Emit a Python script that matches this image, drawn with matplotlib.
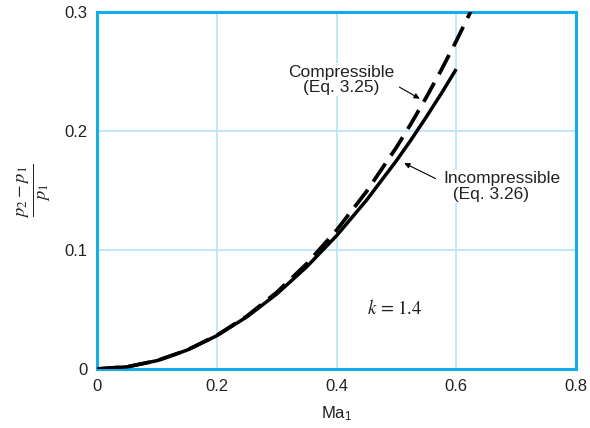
import numpy as np
import matplotlib.pyplot as plt

# ------------------------------------------------------
# DATA
# ------------------------------------------------------

# Mach number samples
ma = [0.0, 0.05, 0.10, 0.15, 0.20, 0.25, 0.30, 0.35, 0.40, 0.45, 0.50,
      0.525, 0.55, 0.575, 0.60]
ma_comp = ma + [0.625, 0.65]

# Incompressible curve (Eq. 3.26)
incomp = [0.0, 0.0018, 0.0070, 0.0158, 0.0280, 0.0438, 0.0630, 0.0858,
          0.1120, 0.1418, 0.1750, 0.1929, 0.2118, 0.2314, 0.2520]

# Compressible curve (Eq. 3.25), runs off the top of the plot
comp = [0.0, 0.0018, 0.0070, 0.0158, 0.0283, 0.0444, 0.0644, 0.0884,
        0.1166, 0.1491, 0.1862, 0.2066, 0.2283, 0.2512, 0.2755, 0.3012, 0.3283]

x_ticks = [0, 0.2, 0.4, 0.6, 0.8]
y_ticks = [0, 0.1, 0.2, 0.3]
x_tick_labels = ['0', '0.2', '0.4', '0.6', '0.8']
y_tick_labels = ['0', '0.1', '0.2', '0.3']

# ------------------------------------------------------
# STYLE
# ------------------------------------------------------

plt.rcParams['font.family'] = ['Liberation Sans', 'DejaVu Sans']
plt.rcParams['mathtext.fontset'] = 'stix'

frameColor = '#12AEEA'
gridColor = '#B5E4F8'

# ------------------------------------------------------
# PLOT
# ------------------------------------------------------

fig = plt.figure(figsize=(5.9, 4.28), dpi=100)
ax1 = fig.add_axes([0.165, 0.138, 0.811, 0.834])

ax1.plot(ma, incomp, '-', color='k', linewidth=2.5, solid_capstyle='butt',
		 solid_joinstyle='round', zorder=3)
ax1.plot(ma_comp, comp, '--', color='k', linewidth=2.7, dashes=(5.8, 2.6), zorder=4)

ax1.set_xlim(0, 0.8)
ax1.set_ylim(0, 0.3)
ax1.set_xticks(x_ticks)
ax1.set_xticklabels(x_tick_labels)
ax1.set_yticks(y_ticks)
ax1.set_yticklabels(y_tick_labels)
ax1.tick_params(length=0, labelsize=12, colors='#222222', pad=7)

# Grid
ax1.grid(True, color=gridColor, linewidth=1.2)
ax1.set_axisbelow(True)

# Frame
for s in ax1.spines.values():
	s.set_color(frameColor)
	s.set_linewidth(2.2)

# Labels
ax1.set_xlabel('Ma$_\\mathregular{1}$', fontsize=12, color='#222222', labelpad=8)
ax1.set_ylabel('$\\frac{p_2 - p_1}{p_1}$', fontsize=19, color='#222222', labelpad=8)

# Annotations
box = dict(facecolor='white', edgecolor='none', pad=1)
ax1.text(0.407, 0.243, 'Compressible\n(Eq. 3.25)', ha='center', va='center',
		 fontsize=12.5, color='#222222', linespacing=1.05, bbox=box, zorder=2)
ax1.annotate('', xy=(0.543, 0.226), xytext=(0.501, 0.238),
			 arrowprops=dict(arrowstyle='-|>', color='k', lw=0.8, mutation_scale=8))

ax1.text(0.578, 0.1535, 'Incompressible\n  (Eq. 3.26)', ha='left', va='center',
		 fontsize=12.5, color='#222222', linespacing=1.05, bbox=box, zorder=2)
ax1.annotate('', xy=(0.509, 0.174), xytext=(0.5695, 0.159),
			 arrowprops=dict(arrowstyle='-|>', color='k', lw=0.8, mutation_scale=8))

ax1.text(0.498, 0.051, '$k$ = 1.4', ha='center', va='center', fontsize=13.5,
		 color='#222222', family='STIXGeneral')

fig.savefig('out.png', dpi=100)
